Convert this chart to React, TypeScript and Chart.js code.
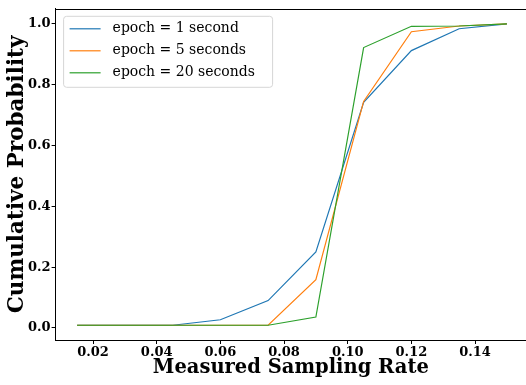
import React, { useEffect, useRef } from "react";
import { Chart, registerables } from "chart.js";

Chart.register(...registerables);

const rates = [0.015, 0.03, 0.045, 0.06, 0.075, 0.09, 0.105, 0.12, 0.135, 0.15];
const epoch1 = [0.009, 0.009, 0.009, 0.027, 0.09, 0.25, 0.742, 0.912, 0.984, 1.0];
const epoch5 = [0.009, 0.009, 0.009, 0.009, 0.009, 0.159, 0.745, 0.974, 0.993, 1.0];
const epoch20 = [0.009, 0.009, 0.009, 0.009, 0.009, 0.036, 0.922, 0.992, 0.993, 1.0];
const seriesNames = ["epoch = 1 second", "epoch = 5 seconds", "epoch = 20 seconds"];
const seriesColors = ["#1f77b4", "#ff7f0e", "#2ca02c"];
const xTicks = [0.02, 0.04, 0.06, 0.08, 0.1, 0.12, 0.14];
const yTicks = [0, 0.2, 0.4, 0.6, 0.8, 1.0];
const xTitle = "Measured Sampling Rate";
const yTitle = "Cumulative Probability";

const SERIF = "'DejaVu Serif', serif";

const frameAndLegend = {
  id: "frameAndLegend",
  afterDraw(chart: any) {
    const { ctx, chartArea } = chart;
    ctx.save();
    // top spine
    ctx.strokeStyle = "#000";
    ctx.lineWidth = 1;
    ctx.beginPath();
    ctx.moveTo(chartArea.left, Math.round(chartArea.top) + 0.5);
    ctx.lineTo(chartArea.right, Math.round(chartArea.top) + 0.5);
    ctx.stroke();

    // legend
    const x0 = chartArea.left + 8;
    const y0 = chartArea.top + 7.5;
    const w = 209;
    const h = 71;
    const r = 3;
    ctx.beginPath();
    ctx.moveTo(x0 + r, y0);
    ctx.lineTo(x0 + w - r, y0);
    ctx.arcTo(x0 + w, y0, x0 + w, y0 + r, r);
    ctx.lineTo(x0 + w, y0 + h - r);
    ctx.arcTo(x0 + w, y0 + h, x0 + w - r, y0 + h, r);
    ctx.lineTo(x0 + r, y0 + h);
    ctx.arcTo(x0, y0 + h, x0, y0 + h - r, r);
    ctx.lineTo(x0, y0 + r);
    ctx.arcTo(x0, y0, x0 + r, y0, r);
    ctx.closePath();
    ctx.fillStyle = "rgba(255,255,255,0.8)";
    ctx.fill();
    ctx.strokeStyle = "#d6d6d6";
    ctx.lineWidth = 1;
    ctx.stroke();

    ctx.font = "14px " + SERIF;
    ctx.textBaseline = "middle";
    ctx.textAlign = "left";
    seriesNames.forEach((name, i) => {
      const y = y0 + 12.5 + i * 22;
      ctx.strokeStyle = seriesColors[i];
      ctx.lineWidth = 1.2;
      ctx.beginPath();
      ctx.moveTo(x0 + 6, y);
      ctx.lineTo(x0 + 37, y);
      ctx.stroke();
      ctx.fillStyle = "#000";
      ctx.fillText(name, x0 + 49, y);
    });
    ctx.restore();
  },
};

export default function App() {
  const ref = useRef<HTMLCanvasElement>(null);
  useEffect(() => {
    document.body.style.margin = "0";
    const series = [epoch1, epoch5, epoch20];
    const chart = new Chart(ref.current as HTMLCanvasElement, {
      type: "line",
      data: {
        datasets: series.map((vals, i) => ({
          label: seriesNames[i],
          data: rates.map((x, j) => ({ x, y: vals[j] })),
          borderColor: seriesColors[i],
          backgroundColor: seriesColors[i],
          borderWidth: 1.2,
          pointRadius: 0,
          tension: 0,
          fill: false,
          order: 2 - i,
        })),
      },
      options: {
        responsive: false,
        animation: false,
        layout: { padding: { top: 5, left: 0, right: 0, bottom: 0 } },
        plugins: { legend: { display: false }, tooltip: { enabled: false } },
        scales: {
          x: {
            type: "linear",
            min: 0.00825,
            max: 0.156,
            afterBuildTicks: (s: any) => {
              s.ticks = xTicks.map((v) => ({ value: v }));
            },
            afterFit: (s: any) => {
              s.height = 45;
            },
            grid: { display: true, drawOnChartArea: false, drawTicks: true, tickLength: 4, tickColor: "#000" },
            border: { display: true, color: "#000", width: 1 },
            ticks: {
              color: "#000",
              padding: 1,
              maxRotation: 0,
              autoSkip: false,
              font: { family: SERIF, size: 13, weight: "bold" },
              callback: (v: any) => Number(v).toFixed(2),
            },
            title: {
              display: true,
              text: xTitle,
              color: "#000",
              font: { family: SERIF, size: 19.5, weight: "bold" },
              padding: { top: 0, bottom: 5 },
            },
          },
          y: {
            type: "linear",
            min: -0.0395,
            max: 1.0495,
            afterBuildTicks: (s: any) => {
              s.ticks = yTicks.map((v) => ({ value: v }));
            },
            afterFit: (s: any) => {
              s.width = 55.6;
            },
            grid: { display: true, drawOnChartArea: false, drawTicks: true, tickLength: 4, tickColor: "#000" },
            border: { display: true, color: "#000", width: 1 },
            ticks: {
              color: "#000",
              padding: 1,
              autoSkip: false,
              font: { family: SERIF, size: 13, weight: "bold" },
              callback: (v: any) => Number(v).toFixed(1),
            },
            title: {
              display: true,
              text: yTitle,
              color: "#000",
              font: { family: SERIF, size: 21.5, weight: "bold" },
              padding: { top: 5, bottom: 0 },
            },
          },
        },
      },
      plugins: [frameAndLegend],
    });
    return () => chart.destroy();
  }, []);
  return (
    <div style={{ position: "fixed", left: 0, top: 0, width: 526, height: 385 }}>
      <canvas ref={ref} width={526} height={385} style={{ display: "block" }} />
    </div>
  );
}
